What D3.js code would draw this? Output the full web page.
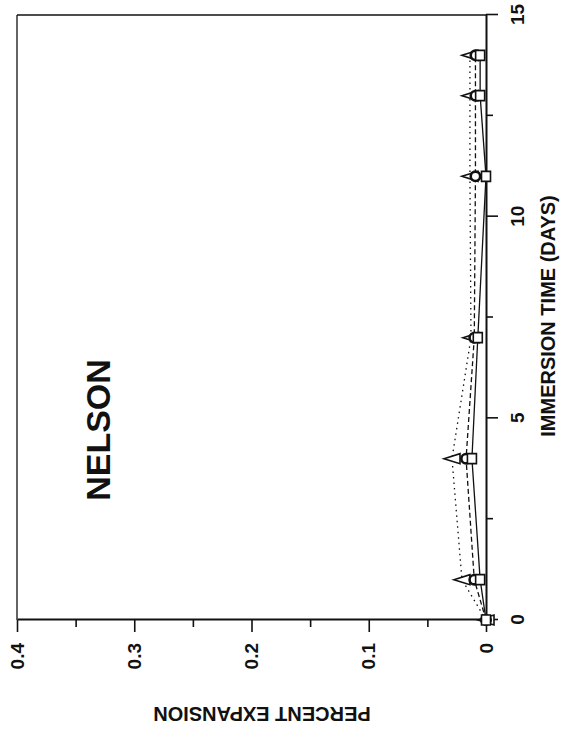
<html>
<meta charset="utf-8">
<head>
	<title>Nelson</title>
	<script src="https://d3js.org/d3.v7.min.js"></script>
</head>
<body style="margin:0;background:#fff">
<svg id="chart" height="731" width="562"></svg>

<script>
	// readings taken from the plot
	var days = [0, 1, 4, 7, 11, 13, 14];
	var specimenTri = [0, 0.0205, 0.029, 0.0128, 0.0137, 0.0137, 0.0137];
	var specimenCirc = [0, 0.010, 0.017, 0.010, 0.009, 0.009, 0.009];
	var specimenSq = [0, 0.005, 0.012, 0.007, 0.000, 0.005, 0.005];

	var dayTicks = [0, 5, 10, 15];
	var dayMinor = [2.5, 7.5, 12.5];
	var expTicks = [0, 0.1, 0.2, 0.3, 0.4];
	var expMinor = [0.05, 0.15, 0.25, 0.35];

	var svg = d3.select("#chart");
	var font = "'Liberation Sans', Arial, sans-serif";
	var ink = "#111";

	// the whole chart is drawn in its own frame and turned a quarter left
	var g = svg.append("g").attr("transform", "translate(0,731) rotate(-90)");

	var x = d3.scaleLinear().domain([0, 15]).range([111, 716]);
	var y = d3.scaleLinear().domain([0, 0.4]).range([486, 17]);

	// frame on the far sides
	g.append("line").attr("x1", x(0)).attr("x2", x(15)).attr("y1", y(0.4)).attr("y2", y(0.4))
		.attr("stroke", ink).attr("stroke-width", 1.3);
	g.append("line").attr("x1", x(15)).attr("x2", x(15)).attr("y1", y(0.4)).attr("y2", y(0))
		.attr("stroke", ink).attr("stroke-width", 1.3);

	function styleAxis(sel) {
		sel.attr("font-family", font).attr("font-size", 19).attr("font-weight", "bold");
		sel.selectAll("path.domain").attr("stroke", ink).attr("stroke-width", 2);
		sel.selectAll("line").attr("stroke", ink).attr("stroke-width", 1.6);
		sel.selectAll("text").attr("fill", ink);
	}

	var xAxis = g.append("g").attr("transform", "translate(0," + y(0) + ")")
		.call(d3.axisBottom(x).tickValues(dayTicks).tickSize(12).tickSizeOuter(0).tickPadding(13));
	styleAxis(xAxis);
	var xMinor = g.append("g").attr("transform", "translate(0," + y(0) + ")")
		.call(d3.axisBottom(x).tickValues(dayMinor).tickSize(7).tickFormat(""));
	xMinor.select("path.domain").remove();
	styleAxis(xMinor);

	var yAxis = g.append("g").attr("transform", "translate(" + x(0) + ",0)")
		.call(d3.axisLeft(y).tickValues(expTicks).tickSize(12).tickSizeOuter(0).tickPadding(11)
			.tickFormat(function (d) { return d === 0 ? "0" : d3.format(".1f")(d); }));
	styleAxis(yAxis);
	var yMinor = g.append("g").attr("transform", "translate(" + x(0) + ",0)")
		.call(d3.axisLeft(y).tickValues(expMinor).tickSize(7).tickFormat(""));
	yMinor.select("path.domain").remove();
	styleAxis(yMinor);

	// axis titles
	g.append("text").attr("x", 415).attr("y", 555)
		.attr("text-anchor", "middle").attr("font-family", font).attr("font-size", 20)
		.attr("font-weight", "bold").attr("fill", ink)
		.text("IMMERSION TIME (DAYS)");
	g.append("text").attr("transform", "translate(24,262) rotate(-90)")
		.attr("text-anchor", "middle").attr("font-family", font).attr("font-size", 20)
		.attr("font-weight", "bold").attr("fill", ink)
		.text("PERCENT EXPANSION");

	g.append("text").attr("x", 301).attr("y", 110)
		.attr("text-anchor", "middle").attr("font-family", font).attr("font-size", 34)
		.attr("font-weight", "bold").attr("fill", ink)
		.text("NELSON");

	var series = [
		{ values: specimenTri, dash: "1.5,4", mark: "tri" },
		{ values: specimenCirc, dash: "5,3", mark: "circ" },
		{ values: specimenSq, dash: null, mark: "sq" }
	];

	var line = d3.line()
		.x(function (d) { return x(d[0]); })
		.y(function (d) { return y(d[1]); });

	series.forEach(function (s) {
		g.append("path")
			.datum(days.map(function (d, i) { return [d, s.values[i]]; }))
			.attr("fill", "none").attr("stroke", ink).attr("stroke-width", 1.3)
			.attr("stroke-dasharray", s.dash)
			.attr("d", line);
	});

	series.forEach(function (s) {
		var pts = g.append("g").selectAll("path").data(days.map(function (d, i) { return [d, s.values[i]]; }))
			.enter().append("path")
			.attr("transform", function (d) { return "translate(" + x(d[0]) + "," + y(d[1]) + ")"; })
			.attr("fill", "#fff").attr("stroke", ink);
		if (s.mark === "tri") {
			pts.attr("d", "M0,-8L5,8L-5,8Z").attr("stroke-width", 1.6);
		} else if (s.mark === "circ") {
			pts.attr("d", d3.symbol().type(d3.symbolCircle).size(70)()).attr("stroke-width", 2.6);
		} else {
			pts.attr("d", "M-5,-4.5H5V4.5H-5Z").attr("stroke-width", 1.6);
		}
	});
</script>
</body>
</html>
